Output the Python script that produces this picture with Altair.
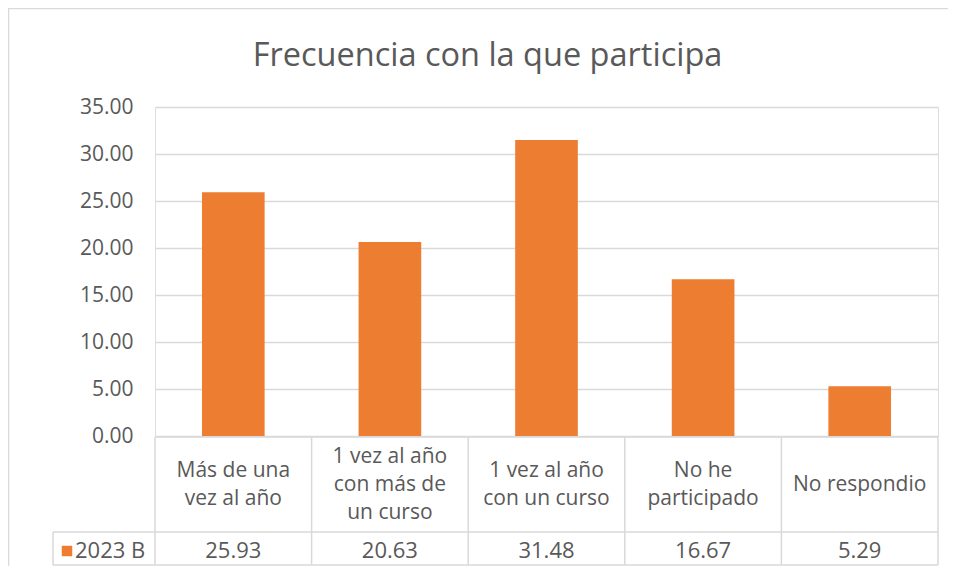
import altair as alt
import pandas as pd

# ---- data ----
categories = [
    "Más de una\nvez al año",
    "1 vez al año\ncon más de\nun curso",
    "1 vez al año\ncon un curso",
    "No he\nparticipado",
    "No respondio",
]
values = [25.93, 20.63, 31.48, 16.67, 5.29]
series_name = "2023 B"
y_ticks = [0, 5, 10, 15, 20, 25, 30, 35]
title_text = "Frecuencia con la que participa"

ORANGE = "#ED7D31"
GRID = "#D9D9D9"
TXT = "#595959"
FONT = "Open Sans"

W, H = 783, 329          # plot area
ROW1_BOTTOM = 425        # bottom of category-label row (pixels from plot top)
ROW2_BOTTOM = 458        # bottom of data row
LEFT_CELL = -102         # left edge of legend cell (pixels from plot left)
LH = 28                  # line height of category labels
ROW1_MID = (H + ROW1_BOTTOM) / 2 + 1
ROW2_MID = 444

df = pd.DataFrame({
    "i": list(range(len(categories))),
    "cat": categories,
    "value": values,
})
df["label"] = df["value"].map(lambda v: f"{v:.2f}")

bounds = pd.DataFrame({"b": list(range(len(categories) + 1))})
legend_df = pd.DataFrame({"series": [series_name]})
title_df = pd.DataFrame({"t": [title_text]})

xs = alt.Scale(domain=[0, len(categories)], nice=False, zero=False)
ys = alt.Scale(domain=[0, 35], nice=False)

base = alt.Chart(df)

bars = base.transform_calculate(
    x0="datum.i + 0.3", x1="datum.i + 0.7"
).mark_bar(color=ORANGE).encode(
    x=alt.X("x0:Q", scale=xs, axis=None),
    x2="x1:Q",
    y=alt.Y("value:Q", scale=ys,
            axis=alt.Axis(values=y_ticks, format=".2f", title=None,
                          grid=True, gridColor=GRID, gridWidth=1.5,
                          domain=False, ticks=False, labelPadding=22,
                          labelFont=FONT, labelFontSize=21, labelColor=TXT)),
    y2=alt.datum(0),
)

# table grid: vertical dividers between categories
vlines = alt.Chart(bounds).mark_rule(color=GRID, strokeWidth=1.5).encode(
    x=alt.X("b:Q", scale=xs, axis=None),
    y=alt.value(H + 1),
    y2=alt.value(ROW2_BOTTOM),
)
hline1 = alt.Chart(legend_df).mark_rule(color=GRID, strokeWidth=1.5).encode(
    x=alt.value(LEFT_CELL), x2=alt.value(W), y=alt.value(ROW1_BOTTOM),
)
hline2 = alt.Chart(legend_df).mark_rule(color=GRID, strokeWidth=1.5).encode(
    x=alt.value(LEFT_CELL), x2=alt.value(W), y=alt.value(ROW2_BOTTOM),
)
hline0 = alt.Chart(legend_df).mark_rule(color=GRID, strokeWidth=1.5).encode(
    x=alt.value(0), x2=alt.value(W), y=alt.value(H + 1),
)
vleft = alt.Chart(legend_df).mark_rule(color=GRID, strokeWidth=1.5).encode(
    x=alt.value(LEFT_CELL), y=alt.value(ROW1_BOTTOM), y2=alt.value(ROW2_BOTTOM),
)

cat_text = base.transform_calculate(
    xc="datum.i + 0.5",
    ypix=f"{ROW1_MID} - (split(datum.cat, '\\n').length - 1) * {LH / 2}",
).mark_text(
    font=FONT, fontSize=21, color=TXT, lineBreak="\n", lineHeight=LH,
    baseline="middle", align="center",
).encode(
    x=alt.X("xc:Q", scale=xs, axis=None),
    y=alt.Y("ypix:Q", scale=None),
    text="cat:N",
)

val_text = base.transform_calculate(xc="datum.i + 0.5").mark_text(
    font=FONT, fontSize=22, color=TXT, baseline="middle", align="center",
).encode(
    x=alt.X("xc:Q", scale=xs, axis=None),
    y=alt.value(ROW2_MID),
    text="label:N",
)

legend_sq = alt.Chart(legend_df).mark_square(color=ORANGE, opacity=1, size=110).encode(
    x=alt.value(LEFT_CELL + 14), y=alt.value(ROW2_MID),
)
legend_txt = alt.Chart(legend_df).mark_text(
    font=FONT, fontSize=22, color=TXT, baseline="middle", align="left",
).encode(
    x=alt.value(LEFT_CELL + 22), y=alt.value(ROW2_MID), text="series:N",
)

title = alt.Chart(title_df).mark_text(
    font=FONT, fontSize=32.5, color=TXT, baseline="middle", align="center",
).encode(
    x=alt.value(487.5 - 155), y=alt.value(56 - 107), text="t:N",
)

border = alt.Chart(legend_df).mark_rect(
    fill=None, stroke=GRID, strokeWidth=1.5
).encode(
    x=alt.value(-146.5), y=alt.value(-98.5),
    x2=alt.value(W + 60), y2=alt.value(H + 200),
)

chart = alt.layer(
    border, bars, vlines, hline0, hline1, hline2, vleft,
    cat_text, val_text, legend_sq, legend_txt, title,
).properties(
    width=W, height=H,
    autosize=alt.AutoSizeParams(type="none"),
    padding={"left": 147, "top": 99, "right": 10, "bottom": 130},
).configure_view(stroke=None).configure(background="white")

chart.save("out.html", embed_options={"renderer": "svg", "actions": False})
